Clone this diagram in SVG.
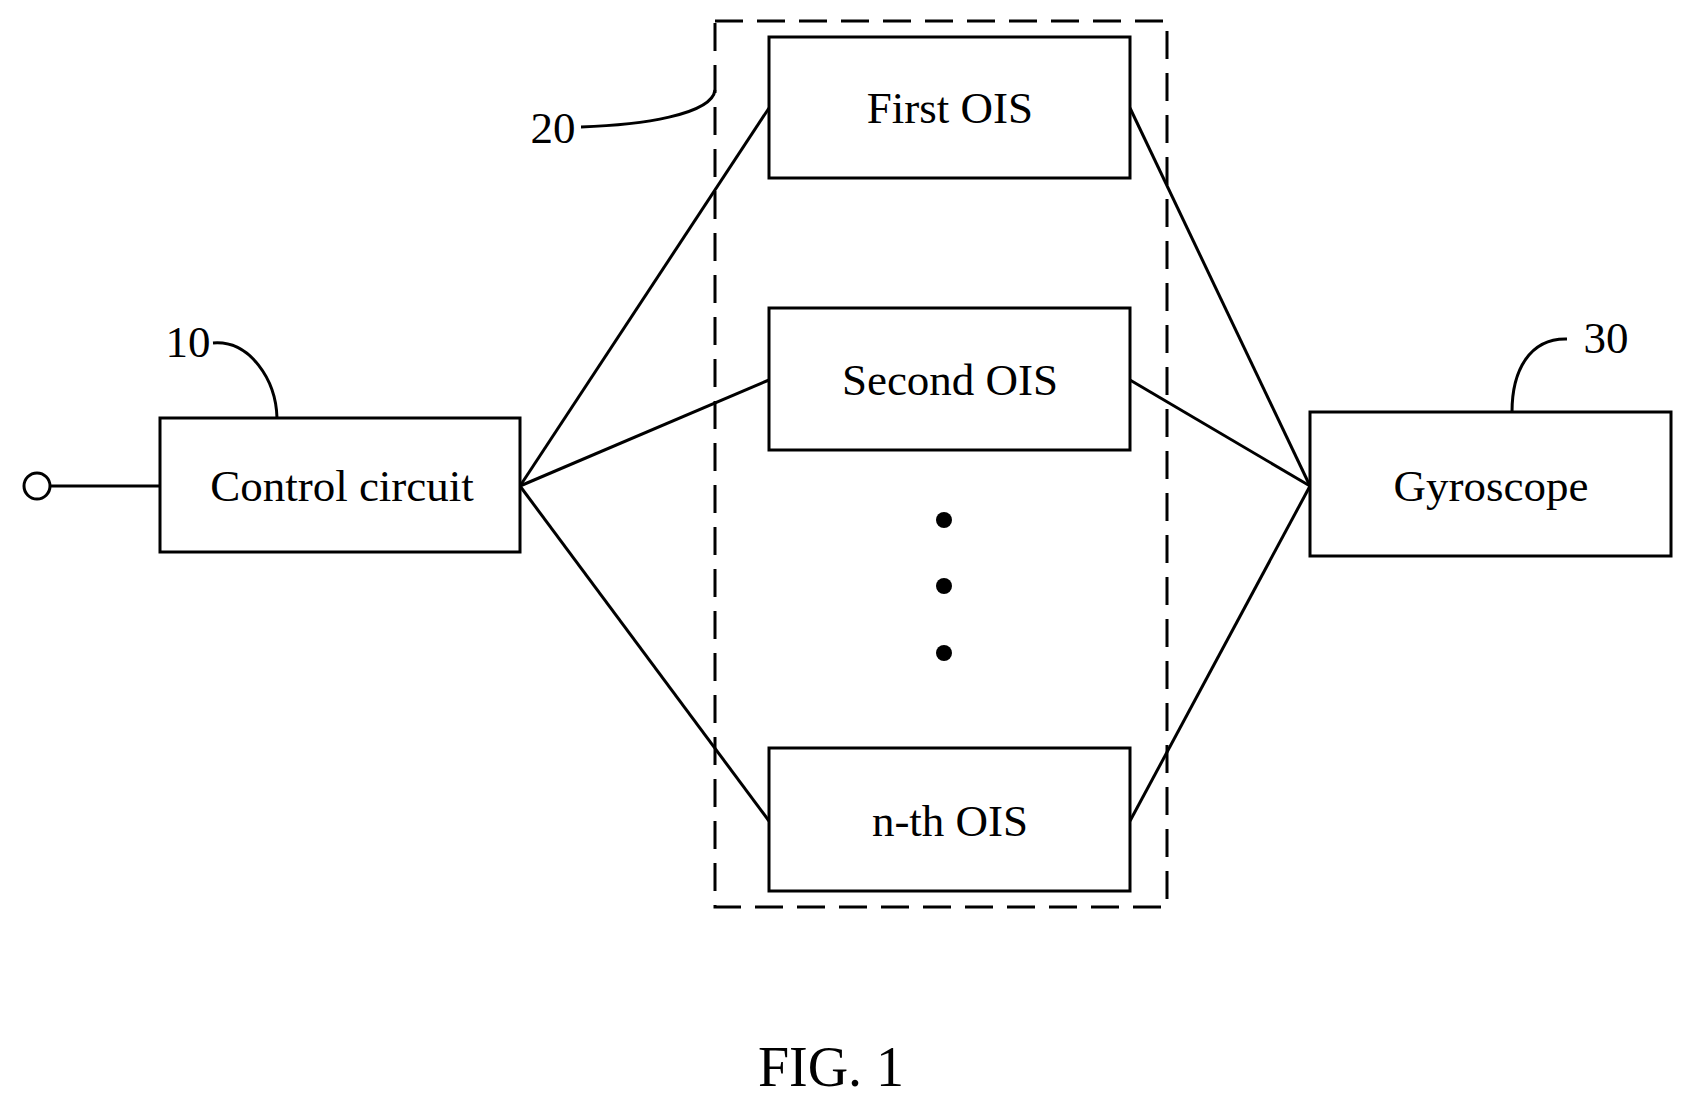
<svg xmlns="http://www.w3.org/2000/svg" width="1693" height="1106" viewBox="0 0 1693 1106">
<style>
.b{fill:#fff;stroke:#000;stroke-width:3}
.l{fill:none;stroke:#000;stroke-width:3}
text{font-family:"Liberation Serif",serif;font-size:45px;text-anchor:middle;fill:#000}
</style>
<rect width="1693" height="1106" fill="#fff"/>
<rect x="715" y="21" width="452" height="886" fill="none" stroke="#000" stroke-width="3" stroke-dasharray="28,14"/>
<g id="connectors" class="l">
<line x1="50" y1="486" x2="160" y2="486"/>
<line x1="520" y1="486" x2="769" y2="108"/>
<line x1="520" y1="486" x2="769" y2="380"/>
<line x1="520" y1="486" x2="769" y2="821"/>
<line x1="1130" y1="108" x2="1310" y2="486"/>
<line x1="1130" y1="380" x2="1310" y2="486"/>
<line x1="1130" y1="821" x2="1310" y2="486"/>
<path d="M213,343 C250,340 276,380 277,418"/>
<path d="M581,127 C640,125 712,115 715,90"/>
<path d="M1567,339 C1530,338 1512,370 1512,412"/>
</g>
<circle cx="37" cy="486" r="13" fill="#fff" stroke="#000" stroke-width="3"/>
<g id="control"><rect class="b" x="160" y="418" width="360" height="134"/><text x="342" y="501">Control circuit</text></g>
<g id="ois1"><rect class="b" x="769" y="37" width="361" height="141"/><text x="950" y="123">First OIS</text></g>
<g id="ois2"><rect class="b" x="769" y="308" width="361" height="142"/><text x="950" y="395">Second OIS</text></g>
<g id="oisn"><rect class="b" x="769" y="748" width="361" height="143"/><text x="950" y="836">n-th OIS</text></g>
<g id="gyro"><rect class="b" x="1310" y="412" width="361" height="144"/><text x="1491" y="501">Gyroscope</text></g>
<g id="dots"><circle cx="944" cy="520" r="8"/><circle cx="944" cy="586" r="8"/><circle cx="944" cy="653" r="8"/></g>
<text x="188" y="357">10</text>
<text x="553" y="143">20</text>
<text x="1606" y="353">30</text>
<text x="831" y="1086" style="font-size:56px">FIG. 1</text>
</svg>
